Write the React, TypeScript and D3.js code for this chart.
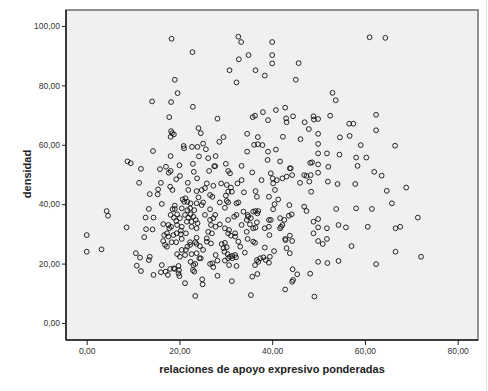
import { useEffect, useRef } from "react";
import * as d3 from "d3";

const WIDTH = 488;
const HEIGHT = 391;
const FRAME = { left: 66, right: 478, top: 10, bottom: 340 };

const xTicks = [0, 20, 40, 60, 80];
const yTicks = [0, 20, 40, 60, 80, 100];
const xTitle = "relaciones de apoyo expresivo ponderadas";
const yTitle = "densidad";

// relaciones de apoyo expresivo ponderadas (x), densidad (y)
const upperLeft: [number, number][] = [
  [18.3, 95.7], [22.8, 91.2], [32.7, 96.4], [33.3, 94.6], [40.0, 94.6], [34.9, 90.2],
  [40.0, 90.2], [40.0, 87.4], [32.8, 88.8], [30.8, 85.1], [36.4, 85.1], [38.4, 83.3],
  [32.3, 81.0], [19.0, 81.9], [19.6, 77.4], [14.1, 74.6], [18.2, 74.4], [22.9, 72.8],
  [17.8, 69.3], [28.2, 68.8], [35.8, 69.3], [36.3, 69.8], [38.0, 71.0], [39.1, 68.3],
  [40.8, 71.7], [18.2, 64.6], [18.4, 63.9], [18.8, 63.5], [18.1, 62.7], [24.1, 65.6],
  [24.6, 63.9], [28.6, 61.0], [29.5, 62.6], [34.6, 63.7], [36.9, 62.6], [36.1, 60.0],
  [36.9, 60.2], [37.9, 59.9], [39.1, 57.7], [40.8, 58.4], [34.6, 57.7], [39.0, 54.9],
  [14.3, 57.9], [18.1, 56.2], [20.9, 59.6], [21.0, 58.8], [22.7, 59.3], [23.9, 59.3],
  [25.1, 60.4], [25.7, 58.5], [24.2, 56.1], [26.2, 55.5], [27.8, 56.2], [30.0, 53.6],
  [27.5, 52.8], [27.7, 52.8], [22.9, 53.6], [20.0, 53.1], [17.1, 52.6], [8.8, 54.4],
  [9.5, 53.8], [11.7, 51.9], [15.8, 51.8], [41.7, 54.4],
];

const upperRight: [number, number][] = [
  [61.0, 96.2], [64.4, 96.0], [45.7, 87.5], [45.1, 81.9], [53.0, 77.5], [53.7, 75.0],
  [62.4, 70.1], [62.4, 64.9], [66.5, 59.7], [42.8, 72.5], [44.5, 69.6], [43.0, 68.9],
  [43.1, 67.6], [47.0, 67.6], [47.9, 65.3], [48.9, 69.6], [49.0, 68.5], [49.9, 68.7],
  [52.5, 69.8], [56.6, 67.1], [57.5, 67.1], [42.3, 62.7], [46.1, 61.9], [49.9, 63.7],
  [49.9, 60.3], [54.6, 62.5], [56.7, 63.0], [59.1, 59.9], [49.9, 57.1], [51.8, 57.1],
  [54.5, 56.7], [58.1, 55.7], [60.3, 55.7], [48.2, 53.9], [48.6, 54.1], [49.9, 53.4],
  [52.1, 52.6], [58.4, 52.9], [43.8, 52.1],
];

const middleLeft: [number, number][] = [
  [18.1, 51.2], [17.7, 50.6], [20.1, 49.5], [19.3, 48.4], [21.8, 47.2], [11.3, 47.2],
  [16.0, 47.2], [18.0, 45.9], [18.5, 44.8], [23.1, 50.9], [23.8, 48.7], [21.9, 44.8],
  [23.7, 44.4], [15.4, 45.0], [15.3, 43.3], [13.6, 43.4], [16.2, 40.1], [20.7, 41.6],
  [21.3, 42.0], [21.7, 40.8], [22.4, 40.3], [21.0, 40.8], [23.7, 40.3], [24.1, 42.3],
  [19.0, 39.5], [13.4, 38.4], [18.5, 38.3], [19.0, 38.4], [20.5, 38.6], [21.7, 38.0],
  [22.3, 38.6], [23.2, 38.0], [4.3, 37.7], [4.6, 36.1], [12.7, 35.5], [14.4, 35.5],
  [18.1, 36.4], [18.8, 35.5], [19.5, 36.6], [20.1, 35.3], [19.3, 34.3], [21.2, 36.4],
  [21.9, 35.5], [22.4, 36.6], [23.0, 35.8], [23.5, 34.7], [22.6, 34.1], [21.6, 34.1],
  [16.5, 33.3], [17.6, 33.0], [18.2, 32.4], [17.8, 31.9], [19.5, 33.0], [20.5, 32.4],
  [20.3, 31.1], [22.6, 32.4], [23.7, 31.9], [23.9, 33.6], [8.6, 32.2], [12.8, 31.6],
  [14.2, 31.5], [17.3, 30.2], [16.7, 29.6], [17.6, 29.1], [18.7, 29.6], [19.4, 30.2],
  [20.3, 29.9], [21.4, 30.2], [23.7, 28.7], [12.4, 28.9], [16.5, 27.6], [18.3, 27.2],
  [19.3, 27.2], [20.5, 28.3], [22.3, 27.2], [23.4, 27.2], [0.0, 29.6], [0.0, 24.0],
];

const lowerLeft: [number, number][] = [
  [3.2, 24.8], [10.6, 23.5], [11.5, 22.0], [13.6, 22.3], [13.4, 21.2], [10.8, 19.3],
  [11.7, 17.5], [14.4, 16.2], [16.2, 19.5], [16.0, 17.1], [17.0, 17.3], [17.5, 16.2],
  [18.0, 18.2], [18.8, 18.4], [19.8, 19.2], [19.9, 17.8], [19.8, 16.7], [20.0, 15.8],
  [19.0, 18.2], [17.3, 25.7], [16.9, 26.3], [19.5, 23.2], [20.5, 24.6], [21.4, 24.6],
  [21.7, 25.7], [22.3, 26.3], [21.2, 22.9], [20.1, 22.3], [22.4, 20.6], [23.0, 19.5],
  [23.4, 19.9], [23.2, 17.3], [22.9, 17.8], [22.6, 23.2], [23.7, 23.5], [21.2, 13.4],
  [23.4, 9.1], [24.3, 21.8],
];

const lowerMiddle: [number, number][] = [
  [24.4, 25.9], [23.7, 26.6], [25.1, 24.6], [25.9, 27.4], [26.8, 26.8], [24.6, 21.8],
  [26.6, 19.9], [27.1, 20.1], [27.3, 18.8], [27.8, 22.9], [28.2, 21.0], [29.1, 26.6],
  [29.8, 27.0], [29.5, 25.2], [30.2, 25.5], [29.7, 24.0], [30.4, 23.2], [30.5, 21.8],
  [29.8, 21.0], [30.9, 22.3], [31.4, 22.6], [32.0, 22.9], [32.2, 22.1], [31.4, 21.8],
  [30.7, 19.5], [32.3, 19.2], [33.1, 25.7], [34.1, 23.7], [32.7, 27.4], [28.2, 15.9],
  [24.9, 14.7], [25.0, 13.0], [31.3, 14.1], [35.9, 27.4], [36.3, 27.0], [38.4, 25.4],
  [40.4, 24.2], [36.7, 21.2], [37.4, 21.8], [38.1, 22.1], [38.6, 21.2], [39.5, 22.3],
  [39.3, 20.3], [37.0, 20.6], [36.3, 19.5], [36.8, 16.5], [35.7, 15.6], [35.4, 9.4],
  [42.8, 11.3], [43.1, 25.2], [43.8, 23.5], [44.4, 18.1], [44.3, 13.9], [44.5, 14.5],
  [42.9, 27.9],
];

const middleCentre: [number, number][] = [
  [26.4, 51.2], [30.5, 51.2], [30.9, 50.4], [33.4, 52.9], [35.7, 50.7], [39.7, 50.4],
  [40.1, 48.7], [41.0, 48.1], [42.2, 48.7], [43.1, 49.3], [44.0, 52.1], [44.3, 49.8],
  [25.9, 47.0], [27.3, 46.2], [25.5, 45.4], [24.8, 44.8], [29.0, 47.0], [30.2, 46.5],
  [31.1, 45.6], [30.5, 44.2], [30.0, 42.9], [31.3, 44.2], [32.5, 47.0], [33.4, 48.1],
  [26.6, 43.1], [27.1, 42.5], [33.9, 44.0], [36.4, 44.4], [36.7, 42.5], [37.7, 48.1],
  [40.2, 47.0], [40.6, 44.8], [39.3, 42.5], [41.3, 41.6], [30.2, 41.1], [30.5, 40.6],
  [28.7, 40.6], [29.8, 38.8], [32.3, 40.3], [32.7, 40.6], [24.8, 39.7], [25.1, 40.6],
  [26.6, 38.3], [33.8, 37.5], [34.7, 36.4], [35.9, 37.5], [36.4, 37.7], [37.0, 37.7],
  [36.8, 36.9], [40.5, 40.0], [40.2, 38.3], [43.7, 39.7], [27.7, 36.4], [27.3, 35.3],
  [26.6, 34.7], [25.5, 36.4], [30.5, 34.7], [31.8, 35.8], [32.3, 36.4], [34.5, 34.7],
  [34.8, 35.8], [35.4, 35.3], [39.3, 34.7], [39.7, 34.7], [41.7, 35.3], [42.6, 34.7],
  [44.2, 36.6], [43.6, 36.1], [26.8, 33.0], [27.8, 32.4], [28.7, 33.2], [29.8, 31.9],
  [30.7, 31.3], [32.0, 30.2], [33.4, 33.0], [35.2, 33.2], [36.7, 33.9], [35.9, 31.9],
  [36.4, 32.1], [26.2, 30.7], [27.0, 30.2], [25.9, 28.5], [30.5, 30.2], [31.1, 29.4],
  [32.0, 29.1], [34.5, 30.7], [34.7, 28.3], [38.4, 31.9], [39.3, 32.4], [39.4, 29.6],
  [41.7, 31.9], [42.2, 33.0], [41.9, 32.4], [42.8, 28.3], [43.8, 29.4], [44.3, 27.6],
];

const lowerRight: [number, number][] = [
  [62.0, 50.9], [63.6, 49.6], [46.0, 47.2], [46.9, 49.8], [47.4, 49.5], [48.3, 49.8],
  [48.0, 47.6], [48.4, 44.2], [49.9, 50.6], [52.0, 47.6], [54.1, 46.8], [57.9, 46.8],
  [64.7, 44.5], [68.9, 45.6], [65.8, 40.3], [46.9, 39.2], [47.4, 37.7], [53.8, 38.4],
  [58.1, 38.6], [61.5, 38.4], [71.4, 35.5], [48.9, 34.1], [49.9, 35.0], [49.9, 32.2],
  [51.8, 31.9], [48.9, 30.2], [54.3, 33.0], [55.9, 32.2], [60.6, 32.4], [66.6, 31.9],
  [67.6, 32.4], [49.9, 27.6], [50.9, 26.6], [51.8, 28.3], [57.1, 25.9], [66.6, 24.0],
  [72.1, 22.3], [49.9, 20.6], [51.9, 20.2], [54.3, 20.9], [62.4, 19.8], [45.4, 16.4],
  [48.2, 16.6], [49.1, 8.9],
];

const points = [
  ...upperLeft, ...upperRight, ...middleLeft, ...lowerLeft,
  ...lowerMiddle, ...middleCentre, ...lowerRight,
];

const fmt = (v: number) => v.toFixed(2).replace(".", ",");

export default function App() {
  const svgRef = useRef<SVGSVGElement>(null);

  useEffect(() => {
    if (!svgRef.current) return;
    const svg = d3.select(svgRef.current);
    svg.selectAll("*").remove();

    const x = d3.scaleLinear().domain([0, 80]).range([86.7, 457.7]);
    const y = d3.scaleLinear().domain([0, 100]).range([323, 26]);

    // plot background + frame
    svg
      .append("rect")
      .attr("x", FRAME.left)
      .attr("y", FRAME.top)
      .attr("width", FRAME.right - FRAME.left)
      .attr("height", FRAME.bottom - FRAME.top)
      .attr("fill", "#f0f0f0")
      .attr("stroke", "#6e6e6e")
      .attr("stroke-width", 1.5);

    // faint page edge on the right
    svg
      .append("line")
      .attr("x1", 486.5)
      .attr("x2", 486.5)
      .attr("y1", 0)
      .attr("y2", HEIGHT)
      .attr("stroke", "#e2e2e2");

    const font = "Arial, 'Liberation Sans', sans-serif";

    // y axis
    const yAxis = svg
      .append("g")
      .attr("transform", `translate(${FRAME.left},0)`)
      .call(
        d3.axisLeft(y).tickValues(yTicks).tickFormat((d) => fmt(+d)).tickSize(4).tickPadding(2)
      );
    yAxis.select(".domain").attr("d", `M0,${FRAME.top}V${FRAME.bottom}`).attr("stroke", "#222").attr("stroke-width", 1.6);
    yAxis.selectAll(".tick line").attr("stroke", "#222").attr("stroke-width", 1);
    yAxis.selectAll(".tick text").attr("font-family", font).attr("font-size", 8.5).attr("fill", "#333");

    // x axis
    const xAxis = svg
      .append("g")
      .attr("transform", `translate(0,${FRAME.bottom})`)
      .call(
        d3.axisBottom(x).tickValues(xTicks).tickFormat((d) => fmt(+d)).tickSize(5).tickPadding(3)
      );
    xAxis.select(".domain").attr("d", `M${FRAME.left},0H${FRAME.right}`).attr("stroke", "#222").attr("stroke-width", 1.6);
    xAxis.selectAll(".tick line").attr("stroke", "#222").attr("stroke-width", 1);
    xAxis.selectAll(".tick text").attr("font-family", font).attr("font-size", 8.5).attr("fill", "#333");

    // points
    svg
      .append("g")
      .selectAll("circle")
      .data(points)
      .join("circle")
      .attr("cx", (d) => x(d[0]))
      .attr("cy", (d) => y(d[1]))
      .attr("r", 2.4)
      .attr("fill", "none")
      .attr("stroke", "#111")
      .attr("stroke-width", 0.9);

    // titles
    svg
      .append("text")
      .attr("x", 272)
      .attr("y", 373)
      .attr("text-anchor", "middle")
      .attr("font-family", font)
      .attr("font-weight", "bold")
      .attr("font-size", 11)
      .attr("fill", "#222")
      .text(xTitle);

    svg
      .append("text")
      .attr("transform", `translate(31,174) rotate(-90)`)
      .attr("text-anchor", "middle")
      .attr("font-family", font)
      .attr("font-weight", "bold")
      .attr("font-size", 11)
      .attr("fill", "#222")
      .text(yTitle);
  }, []);

  return (
    <svg
      ref={svgRef}
      width={WIDTH}
      height={HEIGHT}
      style={{ position: "absolute", left: 0, top: 0, background: "#fff" }}
    />
  );
}
